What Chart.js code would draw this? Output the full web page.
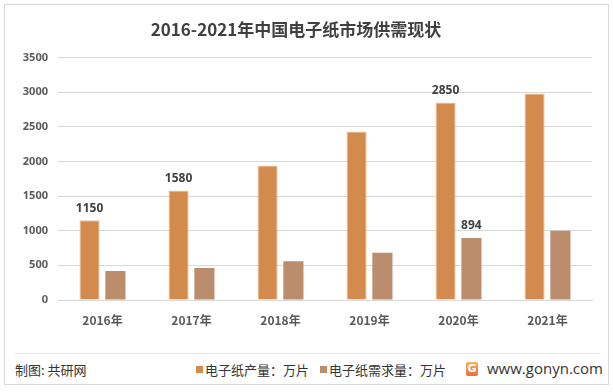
<!DOCTYPE html>
<html>
<head>
<meta charset="utf-8">
<script src="https://cdn.jsdelivr.net/npm/chart.js@4/dist/chart.umd.min.js"></script>
<style>
  body { margin: 0; width: 613px; height: 392px; background: #fff; overflow: hidden;
         font-family: "Noto Sans CJK SC", "Noto Sans", sans-serif; }
  #frame { position: absolute; left: 4px; top: 4px; width: 603px; height: 379px; border: 1px solid #d9d9d9; }
  #wrap { position: absolute; left: 0; top: 0; width: 613px; height: 345px; }
  #sep { position: absolute; left: 15px; top: 353px; width: 585px; height: 1px; background: #e6e6e6; }
  #footer { position: absolute; left: 0; top: 360px; width: 613px; height: 20px; font-size: 13px; color: #333; }
  #footer span { position: absolute; top: 0; white-space: nowrap; }
  .sq { display: inline-block; width: 7px; height: 7px; margin-right: 2px; vertical-align: 2px; }
  #logo { position: absolute; left: 466px; top: 362px; width: 12px; height: 14px; border-radius: 2px;
          background: linear-gradient(#f7b35a, #ef6b3c); color: #fff; font: bold 11px "DejaVu Sans"; text-align: center; line-height: 14px; }
</style>
</head>
<body>
<div id="frame"></div>
<div id="wrap"><canvas id="grafico"></canvas></div>
<div id="sep"></div>
<div id="footer">
  <span style="left:15px">制图: 共研网</span>
  <span id="leg0" style="left:196px"></span>
  <span id="leg1" style="left:320px"></span>
  <span style="left:487px; font-family:'Open Sans','DejaVu Sans',sans-serif; font-size:15px; top:-2px">www.gonyn.com</span>
</div>
<div id="logo">G</div>
<script>
var anos = ['2016年', '2017年', '2018年', '2019年', '2020年', '2021年'];
var producao = [1150, 1580, 1940, 2430, 2850, 2980];
var demanda = [420, 460, 560, 680, 894, 1000];
var nomesSeries = ['电子纸产量：万片', '电子纸需求量：万片'];
var cores = ['#D38B4D', '#BB8D6D'];
var eixoY = [0, 500, 1000, 1500, 2000, 2500, 3000, 3500];
// only these bars carry a value label in the original
var rotulos = [[0, 1, 4], [4]];

// legend in footer
document.getElementById('leg0').innerHTML = '<i class="sq" style="background:' + cores[0] + '"></i>' + nomesSeries[0];
document.getElementById('leg1').innerHTML = '<i class="sq" style="background:' + cores[1] + '"></i>' + nomesSeries[1];

var valorPlugin = {
    id: 'valores',
    afterDatasetsDraw: function(chart) {
        var ctx = chart.ctx;
        ctx.save();
        ctx.font = 'bold 12px "Noto Sans", sans-serif';
        ctx.fillStyle = '#404040';
        ctx.textAlign = 'center';
        ctx.textBaseline = 'bottom';
        rotulos.forEach(function(lista, d) {
            var meta = chart.getDatasetMeta(d);
            lista.forEach(function(i) {
                var bar = meta.data[i];
                ctx.fillText(chart.data.datasets[d].data[i], bar.x, bar.y - 6);
            });
        });
        ctx.restore();
    }
};

var ctx = document.getElementById('grafico').getContext('2d');
window.myBar = new Chart(ctx, {
    type: 'bar',
    data: {
        labels: anos,
        datasets: [{
            label: nomesSeries[0],
            data: producao,
            backgroundColor: cores[0],
            borderColor: '#EDC29C',
            borderWidth: 1,
            barPercentage: 0.78,
            categoryPercentage: 0.58
        }, {
            label: nomesSeries[1],
            data: demanda,
            backgroundColor: cores[1],
            borderWidth: 0,
            barPercentage: 0.78,
            categoryPercentage: 0.58
        }]
    },
    options: {
        responsive: true,
        maintainAspectRatio: false,
        animation: false,
        layout: { padding: { top: 10, right: 21, bottom: 0, left: 0 } },
        plugins: {
            legend: { display: false },
            tooltip: { enabled: false },
            title: {
                display: true,
                text: '2016-2021年中国电子纸市场供需现状',
                color: '#404040',
                font: { size: 17, weight: 'bold', family: '"Noto Sans CJK SC", sans-serif' },
                padding: { top: 9, bottom: 18 }
            }
        },
        scales: {
            x: {
                afterFit: function(scale) { scale.height = 45; },
                grid: { display: false, drawTicks: false },
                border: { color: '#d9d9d9' },
                ticks: { color: '#595959', padding: 13, font: { size: 12, weight: 'bold', family: '"Noto Sans CJK SC", sans-serif' } }
            },
            y: {
                min: 0,
                max: 3500,
                afterBuildTicks: function(scale) {
                    scale.ticks = eixoY.map(function(v) { return { value: v }; });
                },
                afterFit: function(scale) { scale.width = 58; },
                grid: { color: '#d9d9d9', drawTicks: false },
                border: { display: false },
                ticks: {
                    color: '#595959', padding: 10,
                    font: { size: 11, weight: 'bold', family: '"Noto Sans", sans-serif' },
                    callback: function(v) { return String(v); }
                }
            }
        }
    },
    plugins: [valorPlugin]
});
</script>
</body>
</html>
